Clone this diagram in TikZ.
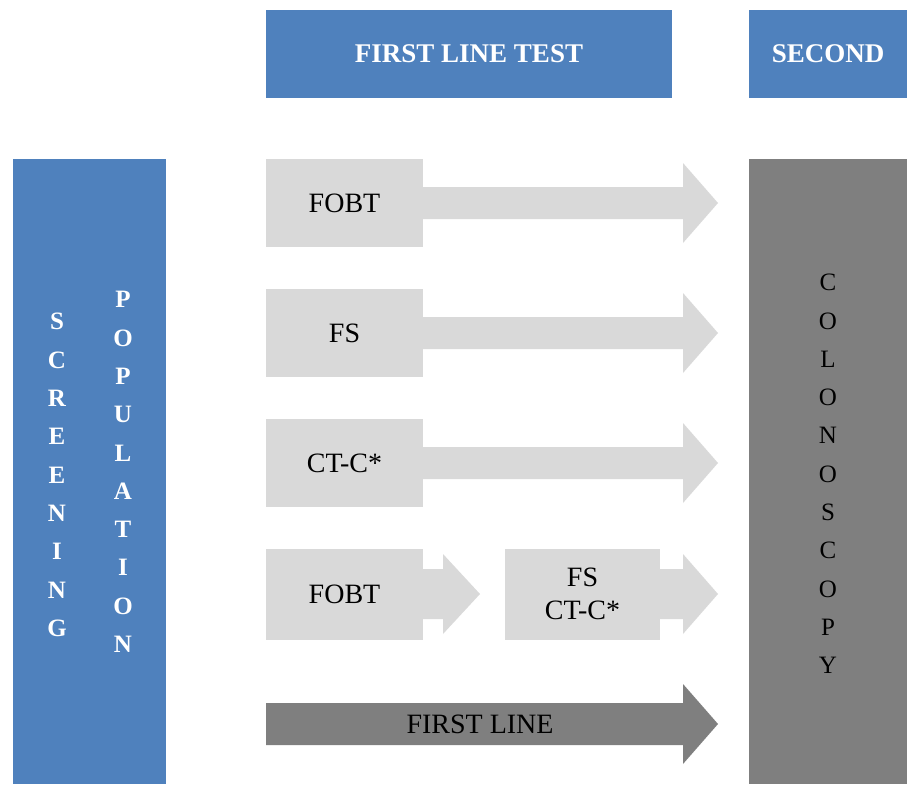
\documentclass[tikz,border=0pt]{standalone}
\usepackage{fontspec}
\setmainfont{Liberation Serif}
\usetikzlibrary{positioning}
\definecolor{hdrblue}{HTML}{4F81BD}
\definecolor{testgray}{HTML}{D9D9D9}
\definecolor{colgray}{HTML}{7F7F7F}
% shaft from a box to a tip: #1 box, #2 tip, #3 shaft half, #4 head half, #5 head length
\newcommand{\flowarrow}[6]{%
  \fill[#6] ([yshift=#3]#1) -- ([xshift=-#5,yshift=#3]#2) -- ([xshift=-#5,yshift=#4]#2)
    -- (#2) -- ([xshift=-#5,yshift=-#4]#2) -- ([xshift=-#5,yshift=-#3]#2)
    -- ([yshift=-#3]#1) -- cycle;}
\begin{document}
\begin{tikzpicture}[x=1pt,y=-1pt,
    header/.style={fill=hdrblue, text=white, inner sep=0pt,
                   font=\bfseries\fontsize{27}{30}\selectfont},
    testbox/.style={fill=testgray, minimum width=157pt, minimum height=88pt,
                    inner sep=0pt, align=center, font=\fontsize{28}{33}\selectfont},
    bar/.style={inner sep=0pt, align=center, font=\bfseries\fontsize{25}{38.3}\selectfont}]
  \useasboundingbox (0,0) rectangle (907,784);

  % headers
  \node[header, minimum width=406pt, minimum height=88pt] (firsthdr) at (469,54) {FIRST LINE TEST};
  \node[header, minimum width=158pt, minimum height=88pt] (secondhdr) at (828,54) {SECOND};

  % side bars
  \fill[hdrblue] (13,159) rectangle (166,784);
  \node[bar, text=white] (screening) at (57,475) {S\\C\\R\\E\\E\\N\\I\\N\\G};
  \node[bar, text=white] (population) at (123,472) {P\\O\\P\\U\\L\\A\\T\\I\\O\\N};
  \fill[colgray] (749,159) rectangle (907,784);
  \node[bar, font=\fontsize{25}{38.3}\selectfont] (colonoscopy) at (828,474) {C\\O\\L\\O\\N\\O\\S\\C\\O\\P\\Y};

  % tips
  \coordinate (tip1) at (718,203);
  \coordinate (tip2) at (718,333);
  \coordinate (tip3) at (718,463);
  \coordinate (tip4a) at (480,594);
  \coordinate (tip4b) at (718,594);
  \coordinate (tip5) at (718,724);
  \coordinate (start5) at (266,724);

  % first line tests
  \node[testbox] (fobt) at (344.5,203) {FOBT};
  \node[testbox] (fs) at (344.5,333) {FS};
  \node[testbox] (ctc) at (344.5,463) {CT-C*};
  \node[testbox, minimum height=91pt] (fobtb) at (344.5,594) {FOBT};
  \node[testbox, minimum width=155pt, minimum height=91pt] (fsctc) at (582.5,594) {FS\\CT-C*};

  \flowarrow{fobt.east}{tip1}{16pt}{40pt}{35pt}{testgray}
  \flowarrow{fs.east}{tip2}{16pt}{40pt}{35pt}{testgray}
  \flowarrow{ctc.east}{tip3}{16pt}{40pt}{35pt}{testgray}
  \flowarrow{fobtb.east}{tip4a}{25pt}{40pt}{37pt}{testgray}
  \flowarrow{fsctc.east}{tip4b}{25pt}{40pt}{35pt}{testgray}
  \flowarrow{start5}{tip5}{21pt}{40pt}{35pt}{colgray}
  \node[font=\fontsize{28}{30}\selectfont] (firstline) at (480,724) {FIRST LINE};
\end{tikzpicture}
\end{document}
